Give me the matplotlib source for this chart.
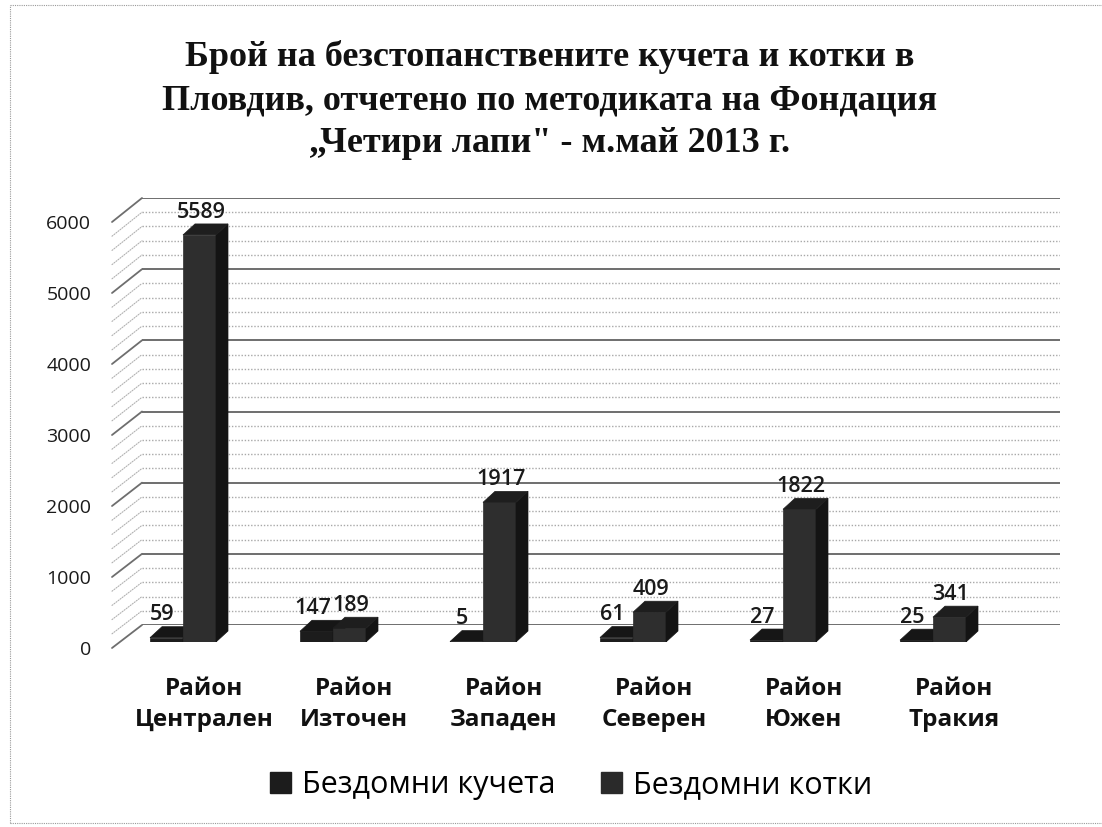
import matplotlib
matplotlib.use("Agg")
import matplotlib.pyplot as plt
from matplotlib.patches import Polygon, Patch
from matplotlib.lines import Line2D
from matplotlib.patches import ConnectionPatch
import numpy as np

# data
districts = ["Район\nЦентрален", "Район\nИзточен", "Район\nЗападен",
             "Район\nСеверен", "Район\nЮжен", "Район\nТракия"]
dogs = [59, 147, 5, 61, 27, 25]
cats = [5589, 189, 1917, 409, 1822, 341]
series = ["Бездомни кучета", "Бездомни котки"]
yticks = [0, 1000, 2000, 3000, 4000, 5000, 6000]
title = ("Брой на безстопанствените кучета и котки в\n"
         "Пловдив, отчетено по методиката на Фондация\n"
         "„Четири лапи\" - м.май 2013 г.")

W, H = 1102, 827
fig = plt.figure(figsize=(W / 100, H / 100), dpi=100)
fig.patch.set_facecolor("white")


def box(l, t, r, b):
    # pixel box -> figure fraction
    return [l / W, 1 - b / H, (r - l) / W, (b - t) / H]


x0px, x1px = 142, 1060
c0, pitch = 204, 150
xlim = ((x0px - c0) / pitch, (x1px - c0) / pitch)

# back wall with gridlines
ax_wall = fig.add_axes(box(x0px, 198, x1px, 625))
ax_wall.set_xlim(*xlim)
ax_wall.set_ylim(0, 6000)
ax_wall.axis("off")
levels = np.arange(0, 6001, 200)
for v in levels:
    if v % 1000 == 0:
        ax_wall.axhline(v, color="#6e6e6e", lw=1.4, zorder=1)
    else:
        ax_wall.axhline(v, color="#a8a8a8", lw=1.0, ls=(0, (1, 1.3)), zorder=1)

# tick labels on the front edge of the side wall
ax_tick = fig.add_axes(box(112, 222, x0px, 648))
ax_tick.set_xlim(0, 1)
ax_tick.set_ylim(0, 6000)
for s in ax_tick.spines.values():
    s.set_visible(False)
ax_tick.set_xticks([])
ax_tick.set_yticks(yticks)
ax_tick.set_yticklabels([str(t) for t in yticks], fontsize=14,
                        family="Open Sans", color="#1a1a1a")
ax_tick.tick_params(axis="y", length=0, pad=15)
ax_tick.patch.set_alpha(0)

# side wall slanted lines
for v in levels:
    major = v % 1000 == 0
    con = ConnectionPatch(xyA=(0, v), coordsA=ax_tick.transData,
                          xyB=(xlim[0], v), coordsB=ax_wall.transData,
                          color="#6e6e6e" if major else "#b0b0b0",
                          lw=1.3 if major else 0.8,
                          ls="-" if major else (0, (1, 1.3)))
    fig.add_artist(con)

# bars
ax = fig.add_axes(box(x0px, 205, x1px, 642))
ax.set_xlim(*xlim)
ax.set_ylim(0, 6000)
ax.axis("off")
ax.patch.set_alpha(0)

bw = 0.22
dx = 12 / pitch                # depth offset, x
dy = 11 / (437 / 6000)         # depth offset, y
x = np.arange(len(districts))


def bar3d(xl, h, front, side, top):
    ax.bar(xl, h, width=bw, align="edge", color=front, edgecolor=front,
           lw=0.5, zorder=3)
    xr = xl + bw
    ax.add_patch(Polygon([(xr, 0), (xr + dx, dy), (xr + dx, h + dy), (xr, h)],
                         closed=True, fc=side, ec=side, lw=0.5, zorder=3))
    ax.add_patch(Polygon([(xl, h), (xl + dx, h + dy), (xr + dx, h + dy), (xr, h)],
                         closed=True, fc=top, ec=top, lw=0.5, zorder=3))


for i in x:
    bar3d(i - 0.36, dogs[i], "#1c1c1c", "#111111", "#161616")
    bar3d(i - 0.14, cats[i], "#2e2e2e", "#141414", "#1e1e1e")

for i in x:
    for xl, v, shift in ((i - 0.36, dogs[i], -3), (i - 0.14, cats[i], 1)):
        ax.annotate(str(v), (xl + bw / 2, v + dy), xytext=(shift, 1),
                    textcoords="offset points", ha="center", va="bottom",
                    fontsize=15.5, fontweight="semibold", family="Open Sans",
                    color="#1a1a1a", zorder=5)

    ax.text(i, -0.08, districts[i], transform=ax.get_xaxis_transform(),
            ha="center", va="top", fontsize=17.5, fontweight="bold",
            family="Open Sans", linespacing=1.4, color="#111111")

# title
fig.text(550 / W, 1 - 100 / H, title, ha="center", va="center",
         fontsize=26, fontweight="bold", family="Liberation Serif",
         linespacing=1.38, color="#111111")

# legend
handles = [Patch(fc="#1c1c1c", ec="#1c1c1c"), Patch(fc="#2a2a2a", ec="#2a2a2a")]
fig.legend(handles, series, loc="center", bbox_to_anchor=(571 / W, 1 - 785 / H),
           ncol=2, frameon=False, handlelength=0.7,
           handleheight=0.7, handletextpad=0.35, columnspacing=1.5,
           prop={"family": "Open Sans", "size": 22})

# page frame from the scan
fig.add_artist(Line2D([10 / W, 10 / W], [1 - 823 / H, 1 - 5 / H],
                      transform=fig.transFigure, color="#9a9a9a", lw=0.8,
                      ls=(0, (1, 1))))
fig.add_artist(Line2D([10 / W, 1], [1 - 5 / H, 1 - 5 / H],
                      transform=fig.transFigure, color="#9a9a9a", lw=0.8,
                      ls=(0, (1, 1))))
fig.add_artist(Line2D([10 / W, 1], [1 - 823 / H, 1 - 823 / H],
                      transform=fig.transFigure, color="#9a9a9a", lw=0.8,
                      ls=(0, (1, 1))))

fig.savefig("out.png", dpi=100)
